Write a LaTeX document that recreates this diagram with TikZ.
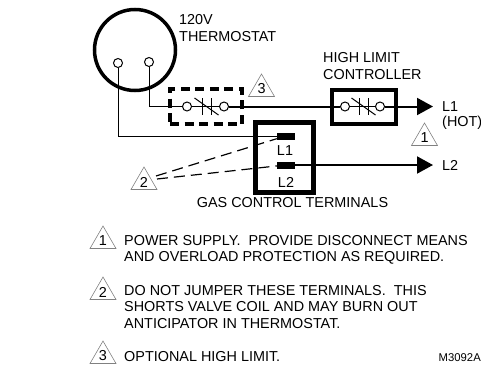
\documentclass[tikz,border=0pt]{standalone}
\usepackage{fontspec}
\setmainfont{Liberation Sans}
\usetikzlibrary{shapes.geometric,arrows.meta,positioning}

\tikzset{
  caption/.style={inner sep=0pt, font=\fontsize{14.4}{17}\selectfont, align=left},
  note/.style={inner sep=0pt, font=\fontsize{14.4}{16.7}\selectfont, align=left, anchor=north west},
  flag/.style={draw=gray, line width=0.6pt, regular polygon, regular polygon sides=3, minimum size=30pt, inner sep=0pt, font=\fontsize{14.4}{14.4}\selectfont},
  term/.style={draw, circle, fill=white, line width=1pt, minimum size=9pt, inner sep=0pt},
  tab/.style={draw, fill=black, rectangle, minimum width=17pt, minimum height=6pt, inner sep=0pt},
  thin wire/.style={line width=1pt},
  thick wire/.style={line width=2pt},
  feed/.style={thick wire, -{Triangle[length=16pt,width=17pt]}},
  jumper/.style={line width=1.2pt, dash pattern=on 11pt off 6pt},
}

\begin{document}
\begin{tikzpicture}[x=1pt, y=-1pt]
    \useasboundingbox (0,0) rectangle (481,364);

    % thermostat
    \node (stat) [draw, circle, line width=3.5pt, minimum size=81pt, inner sep=0pt] at (135,50) {};
    \node (statL) [term] at (118,63) {};
    \node (statR) [term] at (149,62) {};
    \node (statlabel) [caption, anchor=north west] at (179,14) {120V\\THERMOSTAT};

    % optional limit
    \node (optbox) [draw, rectangle, line width=3.5pt, dash pattern=on 9pt off 5.5pt, minimum width=72pt, minimum height=35pt, inner sep=0pt] at (206,106.5) {};
    \node (optA) [term] at (187,106.5) {};
    \node (optB) [term] at (224,106.5) {};
    \node (flagC) [flag] at (261.5,89) {3};

    % high limit
    \node (limbox) [draw, rectangle, line width=4pt, minimum width=64pt, minimum height=34pt, inner sep=0pt] at (364,106.5) {};
    \node (limA) [term] at (345,106.5) {};
    \node (limB) [term] at (380,106.5) {};
    \node (limlabel) [caption, anchor=north west] at (323,52) {HIGH LIMIT\\CONTROLLER};

    % gas control
    \node (gasbox) [draw, rectangle, line width=5pt, minimum width=58pt, minimum height=70pt, inner sep=0pt] at (284.5,157.5) {};
    \node (tabA) [tab] at (285.5,136) {};
    \node (tabB) [tab] at (285.5,165) {};
    \node (gasA) [caption] at (285,151) {L1};
    \node (gasB) [caption] at (286,182) {L2};
    \node (gaslabel) [caption] at (292.5,203) {GAS CONTROL TERMINALS};

    % outputs
    \coordinate (outA) at (433,106.5);
    \coordinate (outB) at (433,165);
    \node (hot) [caption, anchor=west] at (442,107) {L1};
    \node (hotB) [caption, anchor=west] at (442,123) {(HOT)};
    \node (cold) [caption, anchor=west] at (442,165) {L2};
    \node (flagA) [flag] at (424.5,138) {1};
    \node (flagB) [flag] at (144,182) {2};
    \coordinate (jumpA) at (156,176);
    \coordinate (jumpB) at (157,179);

    % switch contacts
    \foreach \x in {206.5,363.5} {
        \draw [thin wire] (\x-4.5,98) -- (\x-4.5,115);
        \draw [thin wire] (\x+4.5,98) -- (\x+4.5,115);
        \draw [thin wire] (\x-12,98) -- (\x+12,115);
    }

    % wires
    \draw [thin wire] (statL) |- (tabA);
    \draw [thin wire] (statR) |- (optA);
    \draw [thin wire] (optA) -- (optB);
    \draw [thick wire] (optB) -- (limA);
    \draw [thin wire] (limA) -- (limB);
    \draw [feed] (limB) -- (outA);
    \draw [feed] (tabB) -- (outB);
    \draw [jumper] (jumpA) -- (tabA);
    \draw [jumper] (jumpB) -- (tabB);

    % notes
    \node (flagN) [flag] at (103,241) {1};
    \node (noteA) [note] at (124,235) {POWER SUPPLY.\ \ PROVIDE DISCONNECT MEANS\\AND OVERLOAD PROTECTION AS REQUIRED.};
    \node (flagO) [flag] at (103,292) {2};
    \node (noteB) [note] at (124,285) {DO NOT JUMPER THESE TERMINALS.\ \ THIS\\SHORTS VALVE COIL AND MAY BURN OUT\\ANTICIPATOR IN THERMOSTAT.};
    \node (flagP) [flag] at (103,356) {3};
    \node (noteC) [note] at (124,351) {OPTIONAL HIGH LIMIT.};
    \node (code) [caption, anchor=east, font=\fontsize{11.3}{11.3}\selectfont] at (481,358) {M3092A};
\end{tikzpicture}
\end{document}
